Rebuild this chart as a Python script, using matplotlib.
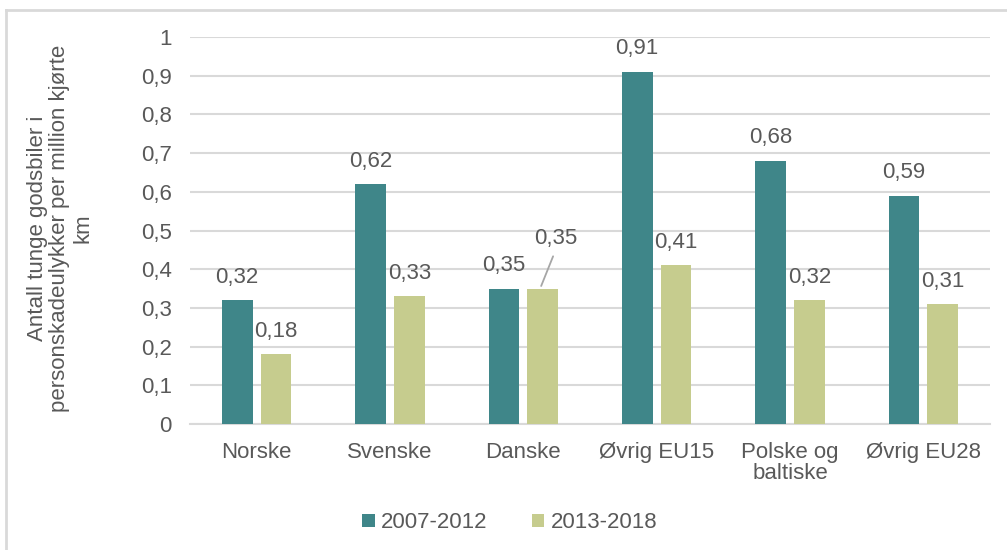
import numpy as np
import matplotlib.pyplot as plt
from matplotlib.lines import Line2D

# Data
kategorier = ["Norske", "Svenske", "Danske", "Øvrig EU15", "Polske og\nbaltiske", "Øvrig EU28"]
periode_1 = [0.32, 0.62, 0.35, 0.91, 0.68, 0.59]
periode_2 = [0.18, 0.33, 0.35, 0.41, 0.32, 0.31]
serie_navn = ["2007-2012", "2013-2018"]

teal = "#3F8689"
olive = "#C6CC8E"
grey_text = "#595959"
grid_col = "#D9D9D9"
fs = 16

plt.rcParams['font.family'] = ['Liberation Sans', 'DejaVu Sans']

fig = plt.figure(figsize=(10.07, 5.5), dpi=100)
ax = fig.add_axes([190/1007, 1-424/550, 800/1007, 387/550])

x = np.arange(len(kategorier))
w = 0.23
off = 0.146
b1 = ax.bar(x - off, periode_1, w, color=teal, label=serie_navn[0], zorder=3)
b2 = ax.bar(x + off, periode_2, w, color=olive, label=serie_navn[1], zorder=3)

def fmt(v):
    return f"{v:.2f}".replace(".", ",")

for xi, v in zip(x - off, periode_1):
    ax.annotate(fmt(v), (xi, v), xytext=(0, 16.5), textcoords="offset points",
                ha="center", va="center", fontsize=fs, color=grey_text)
for i, (xi, v) in enumerate(zip(x + off, periode_2)):
    if kategorier[i] == "Danske":
        # label moved up, with leader line
        ax.annotate(fmt(v), (xi, v), xytext=(9, 36), textcoords="offset points",
                    ha="center", va="center", fontsize=fs, color=grey_text)
        ax.annotate("", (xi - 0.02, v), xytext=(xi + 0.085, v + 0.09),
                    arrowprops=dict(arrowstyle="-", color="#A6A6A6", lw=1.3))
    else:
        ax.annotate(fmt(v), (xi, v), xytext=(0, 16.5), textcoords="offset points",
                    ha="center", va="center", fontsize=fs, color=grey_text)

ax.set_ylim(0, 1)
ax.set_xlim(-0.5, len(kategorier) - 0.5)
ax.set_yticks(np.arange(0, 1.01, 0.1))
ax.set_yticklabels(["0"] + [f"{t:.1f}".replace(".", ",") for t in np.arange(0.1, 0.95, 0.1)] + ["1"])
ax.set_xticks(x)
ax.set_xticklabels(kategorier, fontsize=fs, color=grey_text, linespacing=1.0)
ax.tick_params(axis="y", labelsize=fs, labelcolor=grey_text, length=0, pad=13)
ax.tick_params(axis="x", length=0, pad=13)
ax.yaxis.grid(True, color=grid_col, lw=1.5, zorder=0)
for s in ["top", "right", "left"]:
    ax.spines[s].set_visible(False)
ax.spines["bottom"].set_color(grid_col)
ax.spines["bottom"].set_linewidth(1.5)

fig.text(60/1007, 1-228/550,
         "Antall tunge godsbiler i\npersonskadeulykker per million kjørte\nkm",
         rotation=90, ha="center", va="center", fontsize=fs, color=grey_text,
         multialignment="center", linespacing=1.1)

fig.legend(handles=[b1, b2], labels=serie_navn, loc="center", bbox_to_anchor=(510/1007, 1-523/550),
           ncol=2, frameon=False, fontsize=fs, labelcolor=grey_text,
           handlelength=0.55, handleheight=0.55, handletextpad=0.3, columnspacing=2.0)

# outer frame (left and top visible)
fig.add_artist(Line2D([6/1007, 6/1007], [0, 1-10/550], color=grid_col, lw=2))
fig.add_artist(Line2D([6/1007, 1], [1-10/550, 1-10/550], color=grid_col, lw=2))

fig.savefig("out.png", dpi=100)
